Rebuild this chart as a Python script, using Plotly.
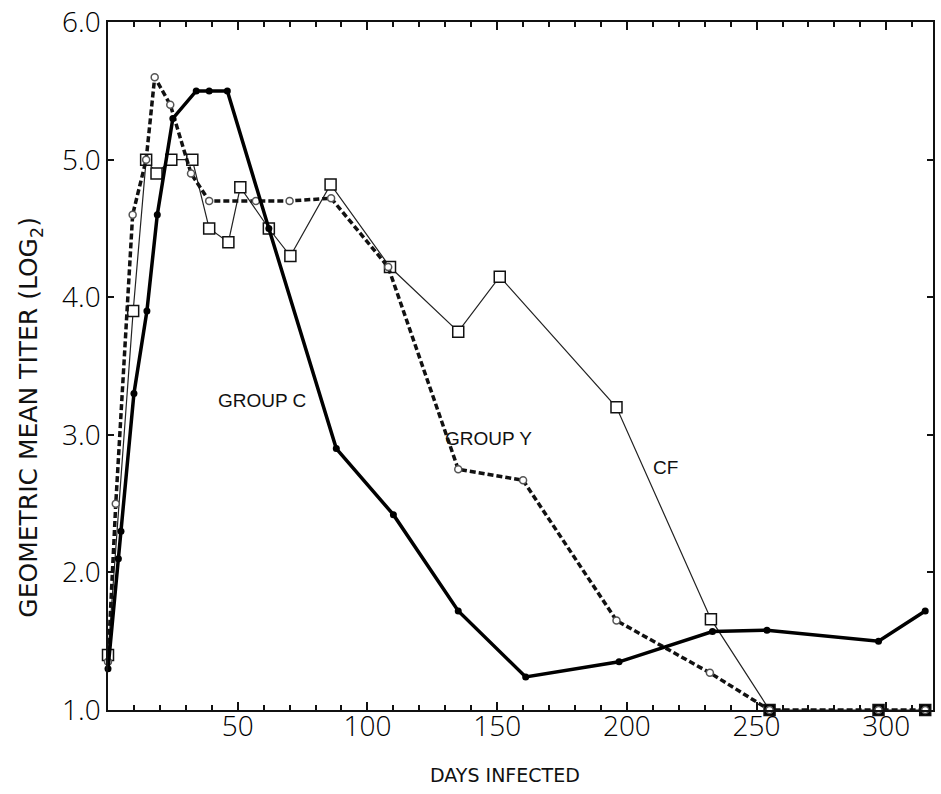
import plotly.graph_objects as go

# Group C (solid line, filled circles)
c_days = [0, 4, 5, 10, 15, 19, 25, 34, 39, 46, 62, 88, 110, 135, 161, 197, 233, 254, 297, 315]
c_vals = [1.3, 2.1, 2.3, 3.3, 3.9, 4.6, 5.3, 5.5, 5.5, 5.5, 4.5, 2.9, 2.42, 1.72, 1.24, 1.35, 1.57, 1.58, 1.5, 1.72]

# Group Y (dashed line, open circles)
y_days = [0, 3, 9.5, 14.7, 18, 24, 32, 39, 57, 70, 86, 108, 135, 160, 196, 232, 255, 297, 315]
y_vals = [1.35, 2.5, 4.6, 5.0, 5.6, 5.4, 4.9, 4.7, 4.7, 4.7, 4.72, 4.22, 2.75, 2.67, 1.65, 1.27, 1.0, 1.0, 1.0]

# CF (thin line, open squares)
cf_days = [0, 9.7, 14.7, 18.7, 24.4, 32.5, 39, 46.4, 51, 62, 70.3, 85.8, 108.7, 135, 151, 196, 232.4, 255, 297, 315]
cf_vals = [1.4, 3.9, 5.0, 4.9, 5.0, 5.0, 4.5, 4.4, 4.8, 4.5, 4.3, 4.82, 4.22, 3.75, 4.15, 3.2, 1.66, 1.0, 1.0, 1.0]

x_tickvals = [50, 100, 150, 200, 250, 300]
y_tickvals = [1, 2, 3, 4, 5, 6]

fig = go.Figure()

cf_fill = ["black" if v <= 1.0 else "white" for v in cf_vals]
fig.add_trace(go.Scatter(
    x=cf_days, y=cf_vals, mode="lines+markers",
    line=dict(color="#222", width=1.2),
    marker=dict(symbol="square", size=11, color=cf_fill, line=dict(color="#111", width=1.5)),
    cliponaxis=False, showlegend=False))

fig.add_trace(go.Scatter(
    x=y_days, y=y_vals, mode="lines+markers",
    line=dict(color="#111", width=3.5, dash="6px,3px"),
    marker=dict(symbol="circle", size=7, color="white", line=dict(color="#555", width=1.5)),
    cliponaxis=False, showlegend=False))

fig.add_trace(go.Scatter(
    x=c_days, y=c_vals, mode="lines+markers",
    line=dict(color="#000", width=3.5),
    marker=dict(symbol="circle", size=7, color="black"),
    cliponaxis=False, showlegend=False))

ann_font = dict(family="Liberation Sans, Arial, sans-serif", size=19, color="#111")
fig.add_annotation(x=59.5, y=3.25, text="GROUP C", showarrow=False, font=ann_font)
fig.add_annotation(x=146.7, y=2.97, text="GROUP Y", showarrow=False, font=ann_font)
fig.add_annotation(x=215, y=2.76, text="CF", showarrow=False, font=ann_font)

fig.add_annotation(xref="paper", yref="paper", x=-0.0945, y=0.425,
                   xanchor="center", yanchor="middle",
                   text="GEOMETRIC MEAN TITER (LOG<sub>2</sub>)", textangle=-90,
                   showarrow=False,
                   font=dict(family="DejaVu Sans, sans-serif", size=25, color="#111"))
fig.add_annotation(xref="paper", yref="paper", x=0.481, y=-0.094,
                   xanchor="center", yanchor="middle",
                   text="DAYS INFECTED", showarrow=False,
                   font=dict(family="DejaVu Sans, sans-serif", size=19, color="#111"))

tick_font = dict(family="Open Sans, sans-serif", size=28, color="#000", weight=300)

fig.update_xaxes(
    range=[0, 318], tickvals=x_tickvals, ticktext=[str(v) for v in x_tickvals],
    ticks="inside", ticklen=8, tickwidth=1.5, tickcolor="#111",
    minor=dict(dtick=10, tick0=0, ticks="inside", ticklen=5, tickwidth=1.5, tickcolor="#111"),
    showline=True, linecolor="#111", linewidth=1.5, mirror="ticks",
    showgrid=False, zeroline=False, tickfont=tick_font, ticklabelstandoff=-9,
    ticklabeloverflow="allow", automargin=False)
fig.update_yaxes(
    range=[1, 6.001], tickvals=y_tickvals, ticktext=["%.1f" % v for v in y_tickvals],
    ticks="inside", ticklen=6, tickwidth=1.5, tickcolor="#111",
    showline=True, linecolor="#111", linewidth=1.5, mirror="ticks",
    showgrid=False, zeroline=False, tickfont=tick_font, ticklabeloverflow="allow",
    automargin=False)

fig.update_layout(
    width=941, height=794,
    margin=dict(l=108, r=8, t=22, b=84),
    paper_bgcolor="white", plot_bgcolor="white",
)

fig.write_html("out.html")
